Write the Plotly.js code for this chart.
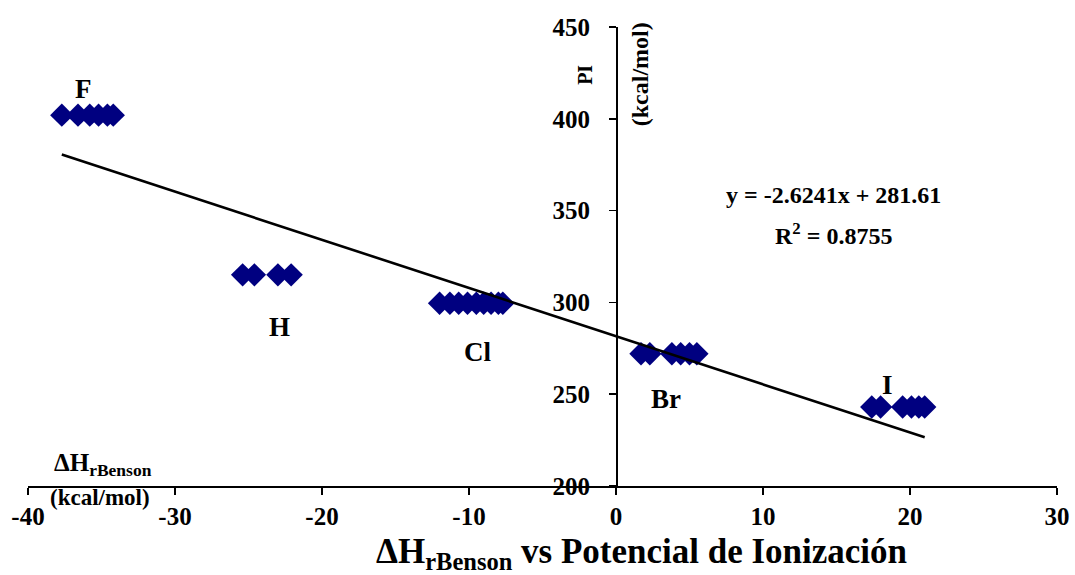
<!DOCTYPE html>
<html><head><meta charset="utf-8">
<script src="https://cdn.plot.ly/plotly-3.0.1.min.js"></script>
<style>html,body{margin:0;padding:0;background:#fff}#chart{width:1075px;height:575px}</style>
</head><body><div id="chart"></div>
<script>
// Data
const groupNames = ["F", "H", "Cl", "Br", "I"];
const xF  = [-37.7, -36.6, -35.8, -35.2, -34.6, -34.2];
const yF  = [402, 402, 402, 402, 402, 402];
const xH  = [-25.4, -24.6, -23.0, -22.1];
const yH  = [315, 315, 315, 315];
const xCl = [-12.0, -11.3, -10.7, -10.1, -9.5, -9.0, -8.5, -8.0, -7.7];
const yCl = [299.5, 299.5, 299.5, 299.5, 299.5, 299.5, 299.5, 299.5, 299.5];
const xBr = [1.7, 2.3, 3.8, 4.4, 5.0, 5.5];
const yBr = [272, 272, 272, 272, 272, 272];
const xI  = [17.4, 18.0, 19.5, 20.1, 20.6, 21.0];
const yI  = [243, 243, 243, 243, 243, 243];
const slope = -2.6241, intercept = 281.61, r2 = 0.8755;
const xTicks = [-40, -30, -20, -10, 0, 10, 20, 30];
const yTicks = [200, 250, 300, 350, 400, 450];
const labelX = [-36.2, -22.9, -9.4, 3.4, 18.5];
const labelY = [416, 286.5, 273, 247.5, 255];

const allX = [].concat(xF, xH, xCl, xBr, xI);
const allY = [].concat(yF, yH, yCl, yBr, yI);
const xmin = Math.min(...allX), xmax = Math.max(...allX);

const serif = "Liberation Serif, Times New Roman, serif";
const traces = [
  {x: allX, y: allY, type: "scatter", mode: "markers",
   marker: {symbol: "diamond", size: 18, color: "#000080", line: {width: 0}},
   showlegend: false, hoverinfo: "x+y"},
  {x: [xmin, xmax], y: [slope * xmin + intercept, slope * xmax + intercept],
   type: "scatter", mode: "lines", line: {color: "#000", width: 2.6},
   showlegend: false, hoverinfo: "skip"}
];

const annotations = groupNames.map((n, i) => ({
  x: labelX[i], y: labelY[i], xref: "x", yref: "y", text: "<b>" + n + "</b>",
  showarrow: false, font: {family: serif, size: 27, color: "#000"}
}));
annotations.push(
  {x: 14.8, y: 358.5, xref: "x", yref: "y", showarrow: false,
   text: "<b>y = " + slope + "x + " + intercept + "</b>", font: {family: serif, size: 24, color: "#000"}},
  {x: 14.8, y: 337.5, xref: "x", yref: "y", showarrow: false,
   text: "<b>R<sup>2</sup> = " + r2 + "</b>", font: {family: serif, size: 24, color: "#000"}},
  {x: -2.1, y: 424, xref: "x", yref: "y", showarrow: false, textangle: -90,
   text: "<b>PI</b>", font: {family: serif, size: 20, color: "#000"}},
  {x: 1.6, y: 424, xref: "x", yref: "y", showarrow: false, textangle: -90,
   text: "<b>(kcal/mol)</b>", font: {family: serif, size: 24, color: "#000"}},
  {x: -34.9, y: 211.5, xref: "x", yref: "y", showarrow: false,
   text: "<b>ΔH<sub>rBenson</sub></b>", font: {family: serif, size: 25, color: "#000"}},
  {x: 0.07, y: -0.024, xref: "paper", yref: "paper", showarrow: false,
   xanchor: "center", yanchor: "middle",
   text: "<b>(kcal/mol)</b>", font: {family: serif, size: 23, color: "#000"}},
  {x: 0.596, y: -0.146, xref: "paper", yref: "paper", showarrow: false,
   xanchor: "center", yanchor: "middle",
   text: "<b>ΔH<sub>rBenson</sub> vs Potencial de Ionización</b>", font: {family: serif, size: 35, color: "#000"}}
);

const layout = {
  width: 1075, height: 575,
  margin: {l: 28, r: 18, t: 27, b: 89},
  paper_bgcolor: "#fff", plot_bgcolor: "#fff",
  xaxis: {range: [-40, 30], tickvals: xTicks, ticktext: xTicks.map(String),
          showgrid: false, zeroline: false, showline: true, linecolor: "#000", linewidth: 1.5,
          ticks: "outside", ticklen: 7, tickcolor: "#000", tickwidth: 1.5,
          tickfont: {family: serif, size: 25, color: "#000", weight: "bold"}},
  yaxis: {range: [200, 450], tickvals: yTicks, ticktext: yTicks.map(String),
          anchor: "free", position: 4 / 7, ticklabelstandoff: 14,
          showgrid: false, zeroline: false, showline: true, linecolor: "#000", linewidth: 1.5,
          ticks: "outside", ticklen: 7, tickcolor: "#000", tickwidth: 1.5,
          tickfont: {family: serif, size: 25, color: "#000", weight: "bold"}},
  annotations: annotations
};
Plotly.newPlot("chart", traces, layout, {displayModeBar: false, staticPlot: true});
</script></body></html>
